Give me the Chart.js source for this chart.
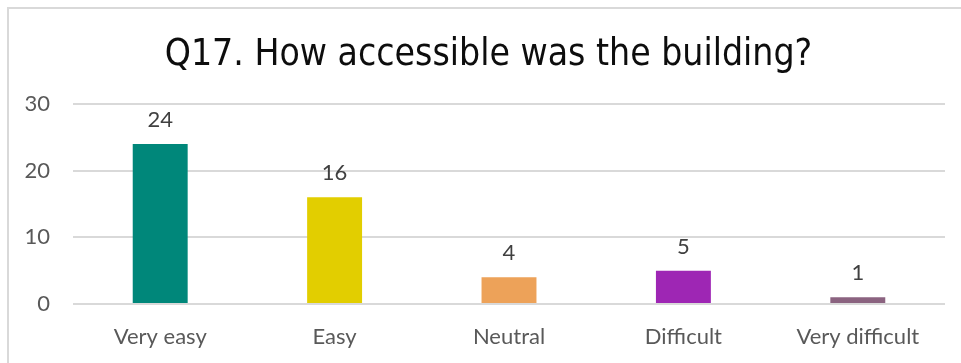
<!DOCTYPE html>
<html>
<head>
<meta charset="utf-8">
<script src="https://cdn.jsdelivr.net/npm/chart.js@4"></script>
<style>
  html, body { margin: 0; padding: 0; background: #fff; overflow: hidden; }
  #frame {
    position: absolute; left: 7px; top: 7px; width: 970px; height: 380px;
    border-left: 2px solid #d9d9d9; border-top: 2px solid #d9d9d9;
  }
  #wrap { position: absolute; left: 0; top: 0; width: 961px; height: 363px; }
</style>
</head>
<body>
<div id="frame"></div>
<div id="wrap"><canvas id="q17-chart" width="961" height="363"></canvas></div>
<script>
// Q17 responses
const categories = ['Very easy', 'Easy', 'Neutral', 'Difficult', 'Very difficult'];
const counts = [24, 16, 4, 5, 1];
const barColors = ['#00877a', '#e2ce00', '#eda259', '#9e26b4', '#8b6380'];
const yTicks = [0, 10, 20, 30];

const labelFont = "Lato, 'Open Sans', sans-serif";

// Value labels above each bar
const valueLabels = {
    id: 'valueLabels',
    afterDatasetsDraw(chart) {
        const ctx = chart.ctx;
        const meta = chart.getDatasetMeta(0);
        ctx.save();
        ctx.fillStyle = '#404040';
        ctx.font = '22px ' + labelFont;
        ctx.textAlign = 'center';
        ctx.textBaseline = 'middle';
        meta.data.forEach((bar, i) => {
            ctx.fillText(String(counts[i]), bar.x, bar.y - 24);
        });
        ctx.restore();
    }
};

// nudge the title block a little to the right of the canvas centre
const titleShift = {
    id: 'titleShift',
    afterLayout(chart) {
        const t = chart.titleBlock;
        if (t) { t.left += 16; t.right += 16; }
    }
};

new Chart(document.getElementById('q17-chart'), {
    type: 'bar',
    data: {
        labels: categories,
        datasets: [{
            data: counts,
            backgroundColor: barColors,
            borderWidth: 0,
            categoryPercentage: 1,
            barPercentage: 0.315
        }]
    },
    options: {
        responsive: false,
        animation: false,
        layout: { padding: { left: 0, right: 16, top: 0, bottom: 0 } },
        plugins: {
            legend: { display: false },
            tooltip: { enabled: false },
            title: {
                display: true,
                text: 'Q17. How accessible was the building?',
                color: '#0d0d0d',
                font: { family: "'DejaVu Sans Condensed', 'DejaVu Sans', sans-serif", size: 37, weight: 'normal', lineHeight: 1 },
                padding: { top: 37, bottom: 30 }
            }
        },
        scales: {
            x: {
                grid: { display: false },
                border: { display: false },
                ticks: {
                    color: '#595959',
                    font: { family: labelFont, size: 22 },
                    padding: 12
                },
                afterFit(scale) { scale.height = 59; }
            },
            y: {
                min: 0,
                max: 30,
                afterBuildTicks(scale) { scale.ticks = yTicks.map(v => ({ value: v })); },
                grid: { color: '#d9d9d9', lineWidth: 2, drawTicks: false },
                border: { display: false },
                ticks: {
                    color: '#595959',
                    font: { family: labelFont, size: 22 },
                    padding: 23
                },
                afterFit(scale) { scale.width = 73; }
            }
        }
    },
    plugins: [valueLabels, titleShift]
});
</script>
</body>
</html>
